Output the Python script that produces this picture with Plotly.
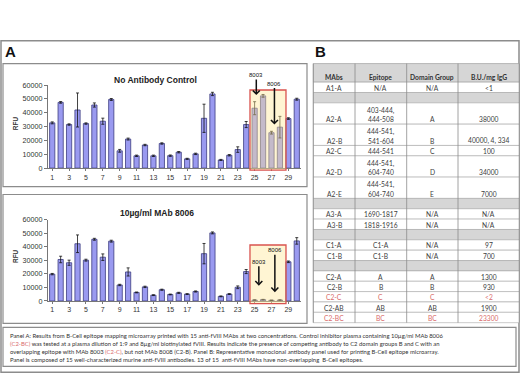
import plotly.graph_objects as go

# ---------------- data ----------------
categories = list(range(1, 31))
x_tick_values = list(range(1, 30, 2))
x_tick_labels = [str(v) for v in x_tick_values]

control_rfu = [32700, 47500, 31500, 42000, 32200, 45600, 33900, 49600, 12500, 21000,
               8900, 16700, 8900, 17800, 9000, 11500, 6700, 10300, 36000, 53600,
               5900, 9300, 13400, 31500, 43300, 52200, 25600, 29600, 35800, 49800]
control_err = [700, 600, 500, 12300, 500, 1500, 2200, 700, 1000, 700,
               500, 500, 500, 500, 500, 500, 400, 500, 10200, 1200,
               400, 500, 2000, 2200, 4700, 1000, 1000, 7800, 600, 700]
mab_rfu = [19800, 30600, 28200, 42200, 30100, 45500, 32300, 44100, 11800, 21400,
           6300, 10400, 4300, 8300, 4800, 6000, 5100, 7000, 34900, 50200,
           3400, 5100, 10100, 21700, 700, 1000, 500, 700, 28900, 44300]
mab_err = [500, 2400, 1900, 6500, 700, 700, 2400, 700, 500, 3000,
           300, 500, 300, 400, 300, 400, 300, 400, 7500, 700,
           300, 300, 1000, 1500, 200, 200, 200, 200, 600, 2400]

table_header = ["MAbs", "Epitope", "Domain Group", "B.U./mg IgG"]
mabs = ["A1-A", "", "A2-A", "A2-B", "A2-C", "A2-D", "A2-E", "", "A3-A", "A3-B", "",
        "C1-A", "C1-B", "", "C2-A", "C2-B", "C2-C", "C2-AB", "C2-BC"]
epitopes = ["N/A", "", "403-444,<br>444-508", "444-541,<br>541-604", "444-541",
            "444-541,<br>604-740", "444-541,<br>604-740", "", "1690-1817", "1818-1916", "",
            "C1-A", "C1-B", "", "A", "B", "C", "AB", "BC"]
domain_groups = ["N/A", "", "A", "B", "C", "D", "E", "", "N/A", "N/A", "",
                 "N/A", "N/A", "", "A", "B", "C", "AB", "BC"]
bu_per_mg = ["<1", "", "38000", "40000, 4, 334", "100", "34000", "7000", "", "N/A", "N/A", "",
             "97", "700", "", "1300", "930", "<2", "1900", "23300"]
red_rows = ["C2-C", "C2-BC"]

caption_lines = [
    "Panel A: Results from B-Cell epitope mapping microarray printed with 15 anti-fVIII MAbs at two concentrations. Control inhibitor plasma containing 10µg/ml MAb 8006",
    "<span style='color:#d96a6a'>(C2-BC)</span> was tested at a plasma dilution of 1:9 and 8µg/ml biotinylated fVIII. Results indicate the presence of competing antibody to C2 domain groups B and C with an",
    "overlapping epitope with MAb 8003 <span style='color:#d96a6a'>(C2-C)</span>, but not MAb 8008 (C2-B). Panel B: Representative monoclonal antibody panel used for printing B-Cell epitope microarray.",
    "Panel is composed of 15 well-characterized murine anti-fVIII antibodies. 13 of 15  anti-fVIII MAbs have non-overlapping  B-Cell epitopes.",
]

# ---------------- helpers ----------------
W, H = 520, 390
def PX(p):
    return p / W
def PY(p):
    return 1 - p / H

SANS = "Liberation Sans, Arial, sans-serif"
TBL = "Lato, Liberation Sans, sans-serif"
FRAME = "#8c8c8c"

fig = go.Figure()

bar_marker = dict(color="#9a9af0", line=dict(color="#3c3c80", width=0.8))
for xa, ya, vals, errs in [("x", "y", control_rfu, control_err), ("x2", "y2", mab_rfu, mab_err)]:
    fig.add_trace(go.Bar(
        x=categories, y=vals, xaxis=xa, yaxis=ya, width=0.62, marker=bar_marker,
        error_y=dict(type="data", array=errs, color="#111", thickness=0.8, width=1.5),
        showlegend=False, hoverinfo="x+y"))

x_common = dict(range=[0.5, 30.5], tickvals=x_tick_values, ticktext=x_tick_labels,
                tickfont=dict(size=7, color="#333", family=SANS), showline=True,
                linecolor="#777", linewidth=1, ticks="outside", ticklen=2, tickcolor="#777",
                showgrid=False, zeroline=False, fixedrange=True)
y_common = dict(range=[0, 60000], dtick=10000, tickformat="d",
                tickfont=dict(size=7.2, color="#333", family=SANS), showline=True,
                linecolor="#777", linewidth=1, ticks="outside", ticklen=3, tickcolor="#777",
                showgrid=False, zeroline=False, fixedrange=True)

x_dom = [PX(48), PX(301)]
fig.update_layout(
    xaxis=dict(domain=x_dom, anchor="y", **x_common),
    yaxis=dict(domain=[PY(168), PY(83)], anchor="x", **y_common),
    xaxis2=dict(domain=x_dom, anchor="y2", **x_common),
    yaxis2=dict(domain=[PY(304), PY(220.7)], anchor="x2", **y_common),
)

shapes = []
annotations = []

def rect(x0, y0, x1, y1, color=FRAME, width=1.2, fill=None):
    shapes.append(dict(type="rect", xref="paper", yref="paper", x0=PX(x0), x1=PX(x1),
                       y0=PY(y1), y1=PY(y0), line=dict(color=color, width=width),
                       fillcolor=fill if fill else "rgba(0,0,0,0)", layer="below"))

def label(text, x, y, size, color="#333", family=SANS, **kw):
    d = dict(text=text, x=PX(x), y=PY(y), xref="paper", yref="paper", showarrow=False,
             xanchor="center", yanchor="middle", font=dict(size=size, color=color, family=family))
    d.update(kw)
    annotations.append(d)

# frames
rect(1, 37.5, 519, 377, width=1.5)
rect(3, 61, 307, 187)
rect(3, 195, 307, 327)
rect(3, 331, 516, 371)

# highlight boxes (x in category units converted to axis-domain fraction)
def cat_dom(c):
    return (c - 0.5) / 30.0
for xr, yr, y0, y1 in [("x domain", "y domain", -0.0235, 0.941), ("x2 domain", "y2 domain", -0.032, 0.688)]:
    shapes.append(dict(type="rect", xref=xr, yref=yr, x0=cat_dom(24.45), x1=cat_dom(28.72),
                       y0=y0, y1=y1, line=dict(color="#d9534f", width=1.3),
                       fillcolor="rgba(255,232,150,0.42)", layer="above"))

# panel letters and titles
label("<b>A</b>", 10, 49, 15, "#111")
label("<b>B</b>", 320, 49, 15, "#111")
label("<b>No Antibody Control</b>", 155, 78, 8.5, "#222")
label("<b>10µg/ml MAb 8006</b>", 157, 214, 8.5, "#222")
for ycen in (122, 258):
    label("<b>RFU</b>", 15, ycen, 6.5, "#333", textangle=-90)

# arrows
for xr, yr, xc, yv, ay, txt in [("x", "y", 25.2, 52800, -20, "8003"),
                                 ("x", "y", 27.35, 31500, -41, "8006"),
                                 ("x2", "y2", 25.5, 11300, -24, "8003"),
                                 ("x2", "y2", 27.4, 6500, -42, "8006")]:
    annotations.append(dict(text=txt, x=xc, y=yv, xref=xr, yref=yr, ax=0, ay=ay,
                            showarrow=True, arrowhead=4, arrowsize=0.9, arrowwidth=1.5,
                            arrowcolor="#111", font=dict(size=6, color="#111", family=SANS)))

# ---------------- table ----------------
col_edges = [313.3, 355, 406.7, 458, 519.3]
col_centers = [(col_edges[i] + col_edges[i + 1]) / 2 for i in range(4)]
table_top = 61
header_h = 19
single_h, double_h = 10.6, 21.8
columns = [mabs, epitopes, domain_groups, bu_per_mg]

rect(col_edges[0], table_top, col_edges[-1], table_top + header_h, color="#a0a0a0", width=0.7, fill="#d6d6d6")
for ci, name in enumerate(table_header):
    label("<b>" + name + "</b>", col_centers[ci], table_top + 13.5, 6.7, "#333", TBL)

ycur = table_top + header_h
for ri in range(len(mabs)):
    nlines = max(len(col[ri].split("<br>")) for col in columns)
    h = double_h if nlines > 1 else single_h
    blank = all(col[ri] == "" for col in columns)
    rect(col_edges[0], ycur, col_edges[-1], ycur + h, color="#a8a8a8", width=0.6,
         fill="#d6d6d6" if blank else "#ffffff")
    color = "#d96a6a" if mabs[ri] in red_rows else "#404040"
    for ci, col in enumerate(columns):
        parts = col[ri].split("<br>")
        for li, part in enumerate(parts):
            if not part:
                continue
            if nlines > 1:
                yc = ycur + h - 5 - 9 * (len(parts) - 1 - li)
            else:
                yc = ycur + h / 2 + 0.5
            label(part.replace("<", "&lt;"), col_centers[ci], yc, 6.7, color, TBL)
    ycur += h

for xe in col_edges:
    shapes.append(dict(type="line", xref="paper", yref="paper", x0=PX(xe), x1=PX(xe),
                       y0=PY(ycur), y1=PY(table_top), line=dict(color="#8a8a8a", width=0.8), layer="below"))

# ---------------- caption ----------------
for i, line in enumerate(caption_lines):
    label(line, 8, 339 + 8.4 * i, 5.9, "#333", TBL, xanchor="left")

fig.update_layout(width=W, height=H, autosize=False, margin=dict(l=0, r=0, t=0, b=0),
                  paper_bgcolor="white", plot_bgcolor="rgba(0,0,0,0)", bargap=0.4,
                  shapes=shapes, annotations=annotations)

fig.write_html("out.html", config={"displayModeBar": False},
               post_script="document.body.style.margin='0';")
